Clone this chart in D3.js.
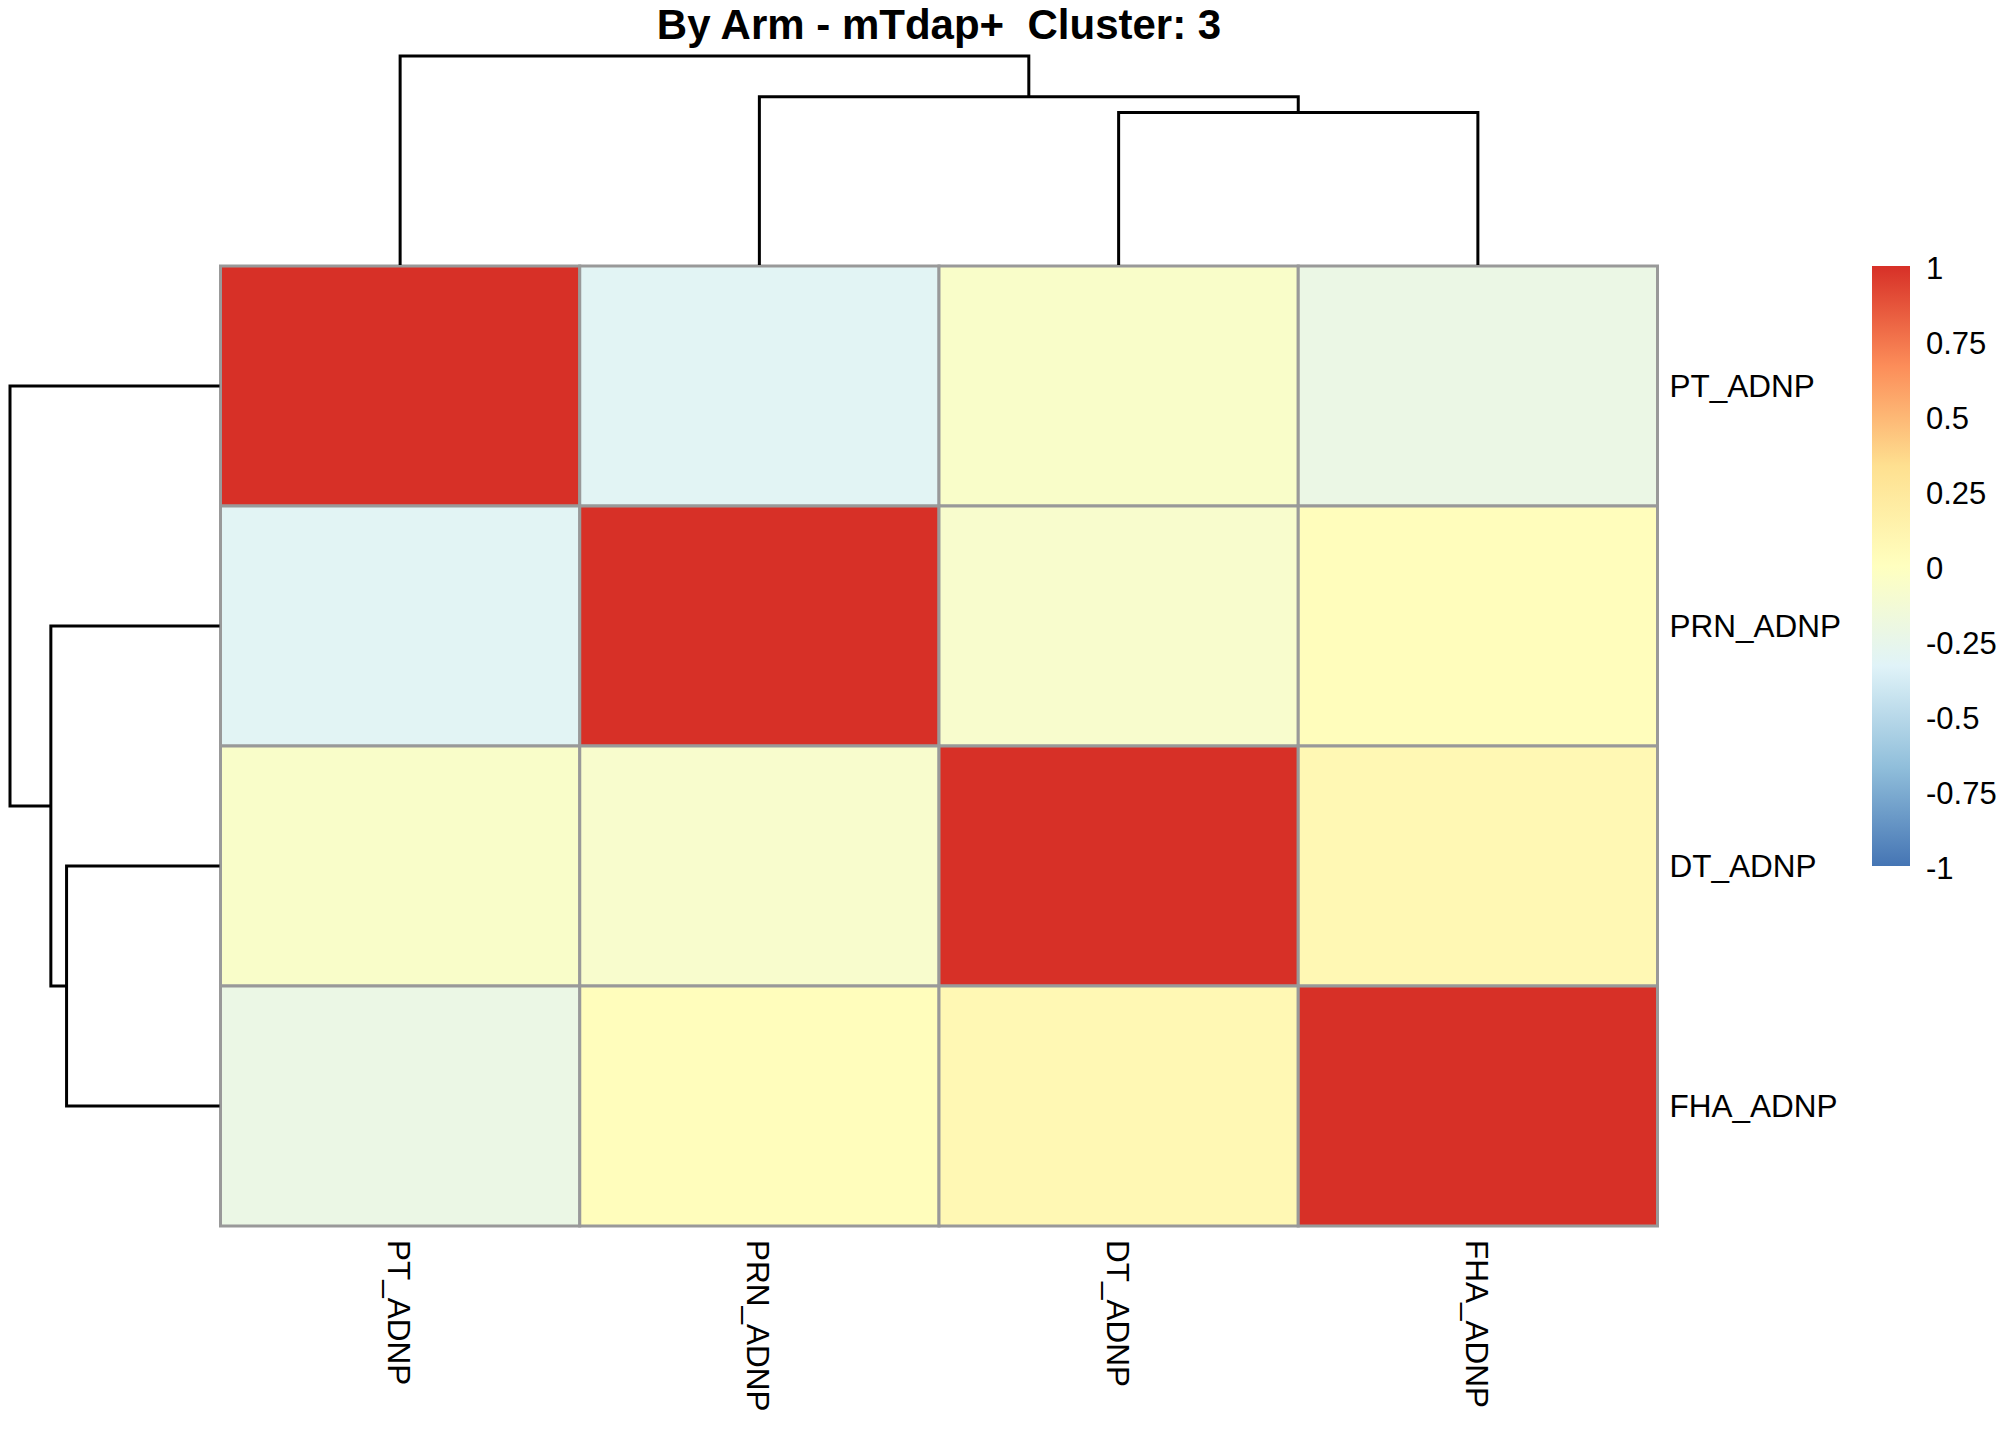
<!DOCTYPE html>
<html>
<head>
<meta charset="utf-8">
<script src="https://cdn.jsdelivr.net/npm/d3@7"></script>
<style>
  body { margin: 0; background: #fff; }
  text { font-family: Arial, "Liberation Sans", sans-serif; fill: #000; }
</style>
</head>
<body>
<svg id="chart" width="2016" height="1440"></svg>
<script>
// 行・列のラベル (クラスタリング後の並び)
var labels = ["PT_ADNP", "PRN_ADNP", "DT_ADNP", "FHA_ADNP"];

// 相関係数 (行 = labels, 列 = labels)
var corPT = [1.0, -0.31, -0.06, -0.22];
var corPRN = [-0.31, 1.0, -0.08, 0.02];
var corDT = [-0.06, -0.08, 1.0, 0.08];
var corFHA = [-0.22, 0.02, 0.08, 1.0];
var corRows = [corPT, corPRN, corDT, corFHA];

// hclust風のmerge: 負数 = 葉(labelsの1始まりindex), 正数 = それ以前のmerge番号
var mergePairs = [[-3, -4], [-2, 1], [-1, 2]];
var mergeHeights = [0.73, 0.805, 1.0];

// 凡例の目盛り
var legendTicks = [1, 0.75, 0.5, 0.25, 0, -0.25, -0.5, -0.75, -1];

// pheatmap既定のパレット (rev(RdYlBu 7色))
var paletteColors = ["#4575B4", "#91BFDB", "#E0F3F8", "#FFFFBF", "#FEE090", "#FC8D59", "#D73027"];

var titleText = "By Arm - mTdap+  Cluster: 3";

var svg = d3.select("#chart");

// ヒートマップ本体の位置
var gridLeft = 220.5, gridRight = 1657.5, gridTop = 266, gridBottom = 1226;
var xScale = d3.scaleBand().domain(labels).range([gridLeft, gridRight]);
var yScale = d3.scaleBand().domain(labels).range([gridTop, gridBottom]);

var colorScale = d3
  .scaleLinear()
  .domain(paletteColors.map((c, i) => -1 + (i * 2) / (paletteColors.length - 1)))
  .range(paletteColors)
  .clamp(true);

// セルのデータを平らな配列にする
var cells = [];
for (var i = 0; i < labels.length; i++) {
  for (var j = 0; j < labels.length; j++) {
    cells.push({ row: labels[i], col: labels[j], value: corRows[i][j] });
  }
}

svg
  .append("g")
  .attr("class", "cells")
  .selectAll("rect")
  .data(cells)
  .enter()
  .append("rect")
  .attr("x", (d) => xScale(d.col))
  .attr("y", (d) => yScale(d.row))
  .attr("width", xScale.bandwidth())
  .attr("height", yScale.bandwidth())
  .attr("fill", (d) => colorScale(d.value))
  .attr("stroke", "#999999")
  .attr("stroke-width", 3);

// 樹形図のノード位置を計算 (pos = 葉方向の座標, h = 高さ)
function buildTree(posOf) {
  var nodes = [];
  function get(k) {
    if (k < 0) return { pos: posOf(labels[-k - 1]), h: 0 };
    return nodes[k - 1];
  }
  var links = [];
  for (var m = 0; m < mergePairs.length; m++) {
    var a = get(mergePairs[m][0]);
    var b = get(mergePairs[m][1]);
    var node = { pos: (a.pos + b.pos) / 2, h: mergeHeights[m] };
    nodes.push(node);
    links.push({ a: a, b: b, h: node.h });
  }
  return links;
}

var maxHeight = d3.max(mergeHeights);

// 列の樹形図 (上)
var colH = d3.scaleLinear().domain([0, maxHeight]).range([gridTop - 1, 56]);
var colLinks = buildTree((l) => xScale(l) + xScale.bandwidth() / 2);
svg
  .append("g")
  .attr("class", "colDendro")
  .selectAll("path")
  .data(colLinks)
  .enter()
  .append("path")
  .attr("d", (d) =>
    `M${d.a.pos},${colH(d.a.h)}V${colH(d.h)}H${d.b.pos}V${colH(d.b.h)}`
  )
  .attr("fill", "none")
  .attr("stroke", "#000")
  .attr("stroke-width", 3);

// 行の樹形図 (左)
var rowH = d3.scaleLinear().domain([0, maxHeight]).range([gridLeft - 1, 10]);
var rowLinks = buildTree((l) => yScale(l) + yScale.bandwidth() / 2);
svg
  .append("g")
  .attr("class", "rowDendro")
  .selectAll("path")
  .data(rowLinks)
  .enter()
  .append("path")
  .attr("d", (d) =>
    `M${rowH(d.a.h)},${d.a.pos}H${rowH(d.h)}V${d.b.pos}H${rowH(d.b.h)}`
  )
  .attr("fill", "none")
  .attr("stroke", "#000")
  .attr("stroke-width", 3);

// 行ラベル
svg
  .append("g")
  .selectAll("text")
  .data(labels)
  .enter()
  .append("text")
  .attr("x", gridRight + 12)
  .attr("y", (d) => yScale(d) + yScale.bandwidth() / 2)
  .attr("dominant-baseline", "central")
  .style("font-size", "31.5px")
  .text((d) => d);

// 列ラベル (90度回転)
svg
  .append("g")
  .selectAll("text")
  .data(labels)
  .enter()
  .append("text")
  .attr(
    "transform",
    (d) => `translate(${xScale(d) + xScale.bandwidth() / 2 - 1},${gridBottom + 14}) rotate(90)`
  )
  .attr("dominant-baseline", "central")
  .style("font-size", "31.5px")
  .text((d) => d);

// 凡例 (カラーバー)
var legendScale = d3.scaleLinear().domain([-1, 1]).range([866, 266]);
var grad = svg
  .append("defs")
  .append("linearGradient")
  .attr("id", "legendGrad")
  .attr("x1", 0)
  .attr("y1", 1)
  .attr("x2", 0)
  .attr("y2", 0);
grad
  .selectAll("stop")
  .data(paletteColors)
  .enter()
  .append("stop")
  .attr("offset", (d, i) => i / (paletteColors.length - 1))
  .attr("stop-color", (d) => d);

svg
  .append("rect")
  .attr("x", 1872)
  .attr("y", legendScale(1))
  .attr("width", 38)
  .attr("height", legendScale(-1) - legendScale(1))
  .attr("fill", "url(#legendGrad)");

svg
  .append("g")
  .selectAll("text")
  .data(legendTicks)
  .enter()
  .append("text")
  .attr("x", 1926)
  .attr("y", (d) => legendScale(d) + 2)
  .attr("dominant-baseline", "central")
  .style("font-size", "31px")
  .text((d) => d);

// タイトル
svg
  .append("text")
  .attr("x", (gridLeft + gridRight) / 2)
  .attr("y", 39)
  .attr("text-anchor", "middle")
  .style("font-size", "42px")
  .style("font-weight", "bold")
  .style("white-space", "pre")
  .text(titleText);
</script>
</body>
</html>
